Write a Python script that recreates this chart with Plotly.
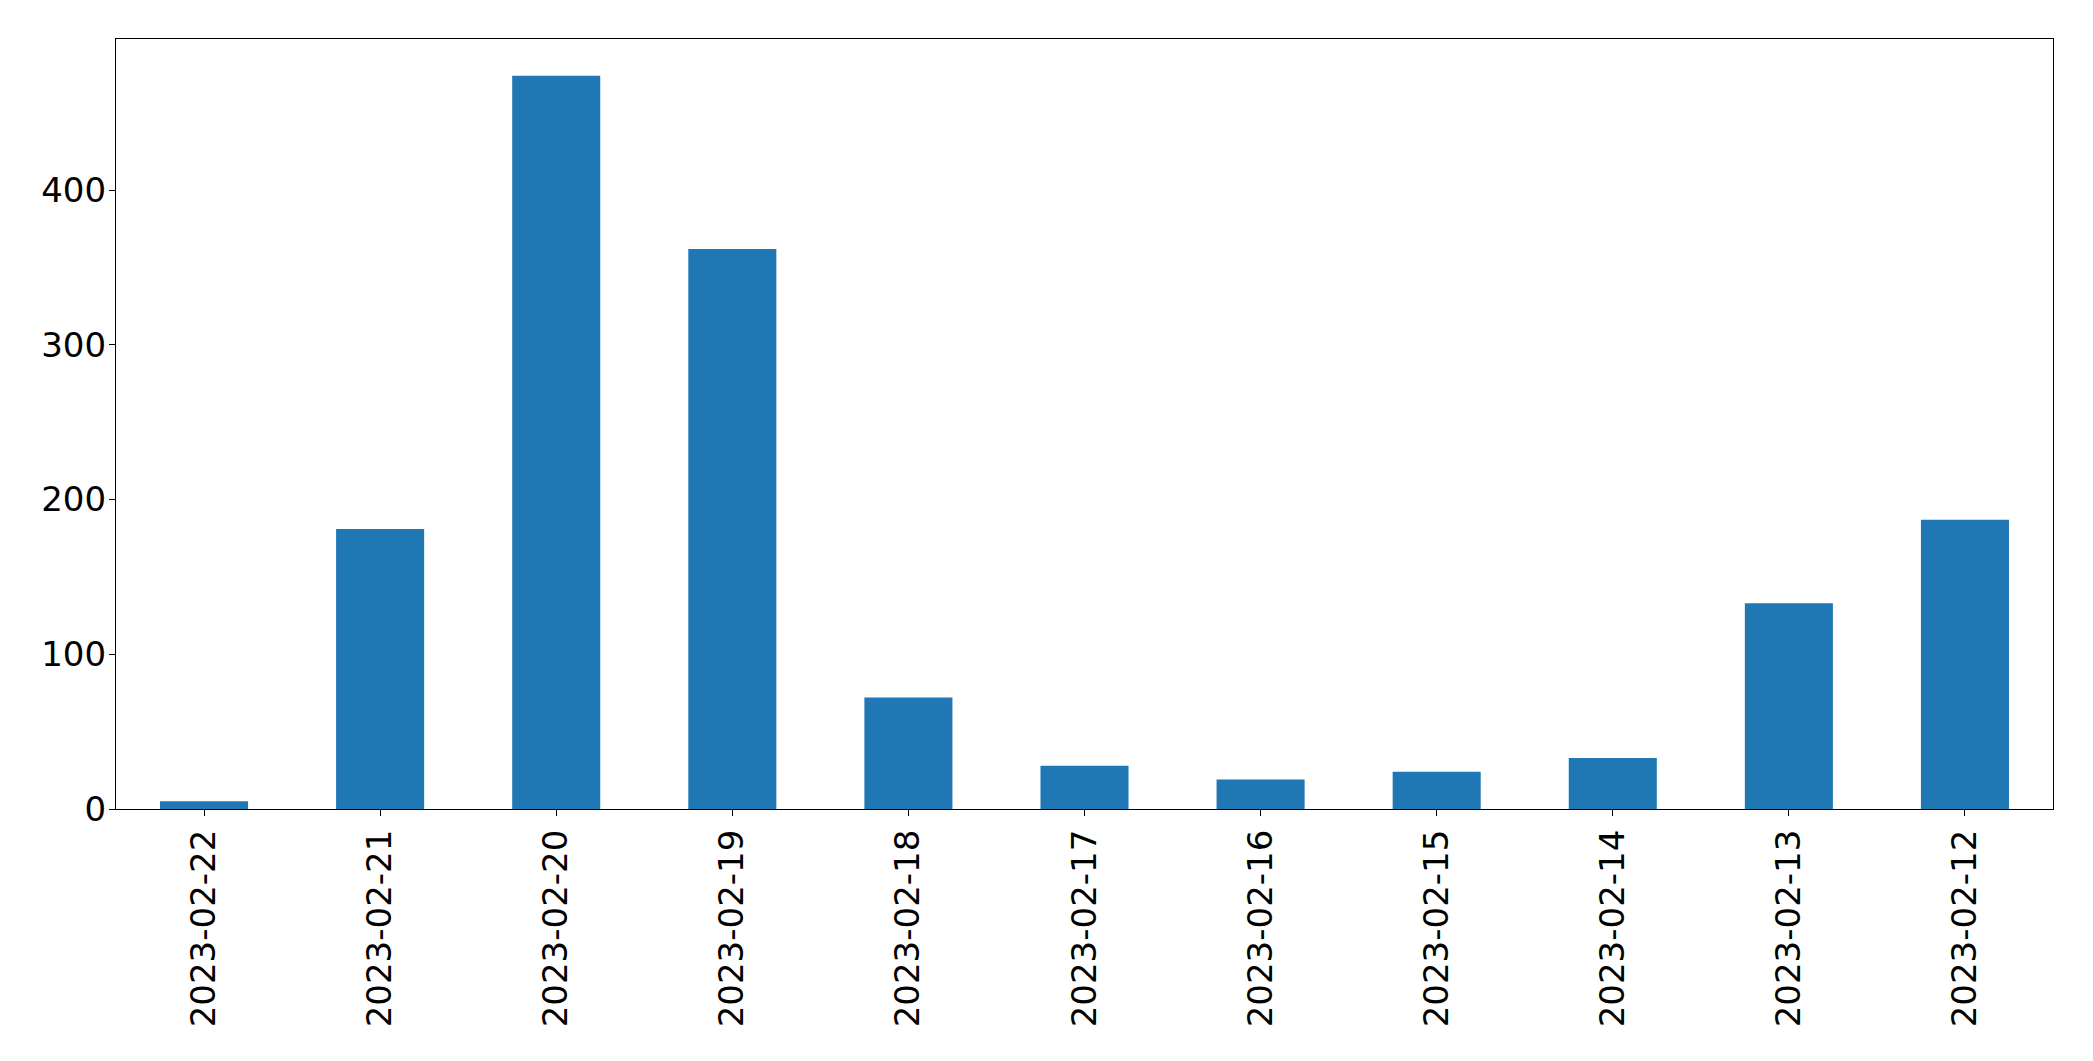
import plotly.graph_objects as go

dates = ["2023-02-22", "2023-02-21", "2023-02-20", "2023-02-19", "2023-02-18",
         "2023-02-17", "2023-02-16", "2023-02-15", "2023-02-14", "2023-02-13",
         "2023-02-12"]
counts = [5, 181, 474, 362, 72, 28, 19, 24, 33, 133, 187]
y_ticks = [0, 100, 200, 300, 400]

fig = go.Figure(go.Bar(
    x=list(range(len(dates))),
    y=counts,
    marker=dict(color="#1f77b4", line=dict(width=0)),
    width=0.5,
))

font = dict(family="DejaVu Sans", size=34, color="black")

fig.update_layout(
    width=2093, height=1061,
    margin=dict(l=108, r=48, t=31, b=260, autoexpand=False),
    paper_bgcolor="white", plot_bgcolor="white",
    showlegend=False,
    font=font,
    xaxis=dict(
        range=[-0.5, len(dates) - 0.5],
        tickmode="array",
        tickvals=list(range(len(dates))),
        ticktext=dates,
        tickangle=-90,
        ticks="outside", ticklen=6, tickwidth=1.2, tickcolor="black",
        showline=True, linecolor="black", linewidth=1.2, mirror=True,
        showgrid=False, zeroline=False,
        tickfont=font,
    ),
    yaxis=dict(
        range=[0, max(counts) * 1.05],
        tickmode="array",
        tickvals=y_ticks,
        ticks="outside", ticklen=6, tickwidth=1.2, tickcolor="black",
        showline=True, linecolor="black", linewidth=1.2, mirror=True,
        showgrid=False, zeroline=False,
        tickfont=font,
        ticklabelstandoff=-4,
    ),
)

fig.write_html("out.html")
